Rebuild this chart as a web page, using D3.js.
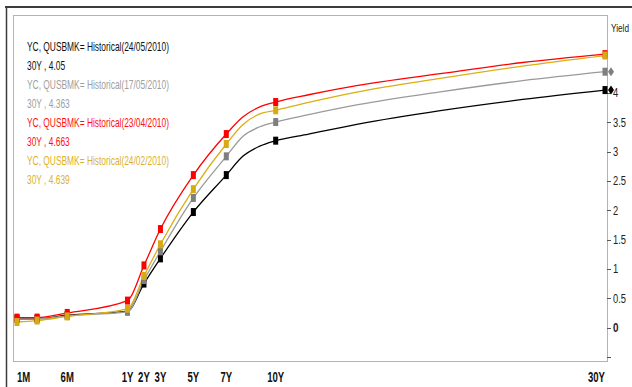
<!DOCTYPE html>
<html><head><meta charset="utf-8">
<script src="https://cdn.jsdelivr.net/npm/d3@7"></script>
<style>html,body{margin:0;padding:0;background:#fff;overflow:hidden}</style>
</head><body>
<svg id="c" width="632" height="387"></svg>
<script>
// ---- data ----
const tenors       = [1/12, 0.25, 0.5, 1, 2, 3, 5, 7, 8, 9, 10, 12, 15, 20, 25, 30];
const markerTenors = [1/12, 0.25, 0.5, 1, 2, 3, 5, 7, 10, 30];
const tickTenors   = [1/12, 0.5, 1, 2, 3, 5, 7, 10, 30];
const tickLabels   = ["1M", "6M", "1Y", "2Y", "3Y", "5Y", "7Y", "10Y", "30Y"];
const yTicks       = [-0.5, 0, 0.5, 1, 1.5, 2, 2.5, 3, 3.5, 4];
const yTickLabels  = ["", "0", "0.5", "1", "1.5", "2", "2.5", "3", "3.5", "4"];
const seriesNames  = ["YC, QUSBMK= Historical(24/05/2010)", "YC, QUSBMK= Historical(17/05/2010)",
                      "YC, QUSBMK= Historical(23/04/2010)", "YC, QUSBMK= Historical(24/02/2010)"];
const y24May = [0.15, 0.15, 0.21, 0.28, 0.75, 1.18, 1.97, 2.60, 2.92, 3.09, 3.187, 3.30, 3.47, 3.70, 3.89, 4.05];
const y17May = [0.15, 0.15, 0.20, 0.27, 0.81, 1.30, 2.21, 2.92, 3.26, 3.42, 3.505, 3.63, 3.80, 4.02, 4.21, 4.363];
const y23Apr = [0.17, 0.17, 0.25, 0.46, 1.06, 1.68, 2.60, 3.30, 3.59, 3.76, 3.846, 3.97, 4.13, 4.33, 4.52, 4.663];
const y24Feb = [0.095, 0.12, 0.19, 0.32, 0.88, 1.42, 2.36, 3.13, 3.46, 3.64, 3.705, 3.84, 4.02, 4.25, 4.46, 4.639];
const diamondSeries = [0, 1];

const lineColors   = ["#000000", "#9a9a9a", "#ff0000", "#dcae14"];
const markerColors = ["#000000", "#7f7f7f", "#ff0000", "#d8aa12"];
const textColors   = ["#111111", "#a0a0a0", "#ff1010", "#dcb22a"];
const seriesVals = [y24May, y17May, y23Apr, y24Feb];

const FONT = "'Liberation Sans',Arial,Helvetica,sans-serif";

const svg = d3.select("#c");
svg.append("rect").attr("width", 632).attr("height", 387).attr("fill", "#fff");

// outer frame
svg.append("line").attr("x1", 5).attr("x2", 632).attr("y1", 7).attr("y2", 7)
  .attr("stroke", "#3c3c3c").attr("stroke-width", 2);
svg.append("line").attr("x1", 6.5).attr("x2", 6.5).attr("y1", 6).attr("y2", 387)
  .attr("stroke", "#3c3c3c").attr("stroke-width", 1.5);

const L = 13, R = 607, T = 15, B = 361;
const x = d3.scaleLinear().domain([1/12, 1, 30]).range([17, 127.5, 605]);
const y = d3.scaleLinear().domain([-0.57, 5.33]).range([B, T]);

svg.append("rect").attr("x", L + 0.5).attr("y", T + 0.5).attr("width", R - L).attr("height", B - T)
  .attr("fill", "none").attr("stroke", "#b4b4b4").attr("stroke-width", 1);

function squeeze(sel, refText, targetW) {
  const tmp = svg.append("text").attr("font-family", sel.attr("font-family"))
    .attr("font-size", sel.attr("font-size")).attr("font-weight", sel.attr("font-weight"))
    .text(refText);
  const ratio = targetW / tmp.node().getComputedTextLength();
  tmp.remove();
  sel.each(function () {
    const w = this.getComputedTextLength();
    d3.select(this).attr("textLength", w * ratio).attr("lengthAdjust", "spacingAndGlyphs");
  });
}

// y axis (right)
const yg = svg.append("g");
yg.selectAll("line.t").data(yTicks).join("line")
  .attr("x1", R).attr("x2", R + 4).attr("y1", d => Math.round(y(d)) + 0.5).attr("y2", d => Math.round(y(d)) + 0.5)
  .attr("stroke", "#555").attr("stroke-width", 1);
const ylab = yg.selectAll("text").data(yTicks).join("text")
  .attr("x", R + 6).attr("y", d => y(d) + 4.5)
  .attr("font-family", FONT).attr("font-size", 12)
  .attr("font-weight", (d, i) => yTickLabels[i] === "0" ? "bold" : "normal")
  .attr("fill", "#222").text((d, i) => yTickLabels[i]);
squeeze(ylab.filter((d, i) => yTickLabels[i] !== "0" && yTickLabels[i] !== ""), "2.5", 13);
squeeze(ylab.filter((d, i) => yTickLabels[i] === "0"), "0", 5.5);

// axis title, compressed via transform
const ytitle = svg.append("text").attr("x", 0).attr("y", 0).attr("font-family", FONT)
  .attr("font-size", 11.5).attr("fill", "#222").text("Yield");
const yw = ytitle.node().getComputedTextLength();
ytitle.attr("transform", `translate(611,32) scale(${18 / yw},1)`);

// x labels
const xlab = svg.append("g").selectAll("text").data(tickTenors).join("text")
  .attr("x", d => x(d)).attr("y", 381.5)
  .attr("text-anchor", (d, i) => i === 0 ? "start" : (i === tickTenors.length - 1 ? "end" : "middle"))
  .attr("font-family", FONT).attr("font-size", 14.5).attr("font-weight", "bold").attr("fill", "#111")
  .text((d, i) => tickLabels[i]);
squeeze(xlab, "10Y", 17);

// lines
const line = d3.line().x(d => x(d[0])).y(d => y(d[1])).curve(d3.curveMonotoneX);
seriesVals.forEach((vals, s) => {
  const pts = tenors.map((t, i) => [t, vals[i]]);
  svg.append("path").datum(pts).attr("d", line).attr("fill", "none")
    .attr("stroke", lineColors[s]).attr("stroke-width", 1.3);
});
seriesVals.forEach((vals, s) => {
  const pts = tenors.map((t, i) => [t, vals[i]]).filter(p => markerTenors.includes(p[0]));
  svg.append("g").selectAll("rect").data(pts).join("rect")
    .attr("x", d => x(d[0]) - 2.5).attr("y", d => y(d[1]) - 4).attr("width", 5).attr("height", 8)
    .attr("fill", markerColors[s]);
});
// axis diamonds (last value)
diamondSeries.forEach(s => {
  const v = seriesVals[s][seriesVals[s].length - 1];
  const cx = R + 4, cy = y(v);
  svg.append("path").attr("d", `M${cx},${cy - 4.5}L${cx + 3},${cy}L${cx},${cy + 4.5}L${cx - 3},${cy}Z`)
    .attr("fill", markerColors[s]);
});

// legend
const legLines = [];
seriesNames.forEach((n, s) => {
  legLines.push({ t: n, c: textColors[s] });
  legLines.push({ t: "30Y , " + String(seriesVals[s][seriesVals[s].length - 1]), c: textColors[s] });
});
const leg = svg.append("g").selectAll("text").data(legLines).join("text")
  .attr("x", 27).attr("y", (d, i) => 51 + i * 19)
  .attr("font-family", FONT).attr("font-size", 13).attr("fill", d => d.c).text(d => d.t);
squeeze(leg, "YC, QUSBMK= Historical(24/05/2010)", 142);
</script>
</body></html>
